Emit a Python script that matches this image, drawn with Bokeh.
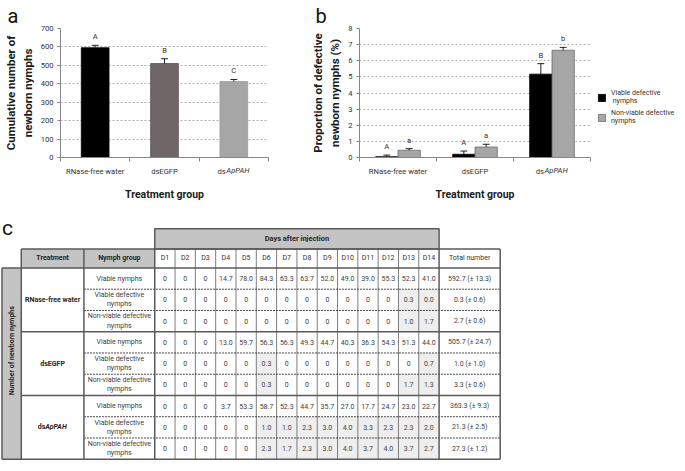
import math
from bokeh.plotting import figure
from bokeh.models import Range1d, FixedTicker, Legend, LegendItem, LinearAxis
from bokeh.layouts import column, row
from bokeh.embed import file_html
from bokeh.resources import INLINE
from bokeh.core.properties import value

FONT = "Roboto"

# ---------------- data ----------------
groups = ["RNase-free water", "dsEGFP", "dsApPAH"]

# panel a: cumulative number of newborn nymphs
a_totals = [595.7, 510.0, 412.0]
a_errors = [13.0, 26.0, 11.5]
a_letters = ["A", "B", "C"]
a_colors = ["#000000", "#6f6668", "#a6a6a6"]
a_yticks = [0, 100, 200, 300, 400, 500, 600, 700]

# panel b: proportion of defective newborn nymphs (%)
b_viable_def = [0.05, 0.20, 5.17]
b_viable_def_err = [0.10, 0.20, 0.65]
b_nonviable_def = [0.45, 0.65, 6.65]
b_nonviable_def_err = [0.10, 0.17, 0.18]
b_letters_viable = ["A", "A", "B"]
b_letters_nonviable = ["a", "a", "b"]
b_yticks = [0, 1, 2, 3, 4, 5, 6, 7, 8]
b_series = ["Viable defective\n nymphs", "Non-viable defective\nnymphs"]

# panel c: table
day_labels = ["D1", "D2", "D3", "D4", "D5", "D6", "D7", "D8", "D9", "D10", "D11", "D12", "D13", "D14"]
nymph_groups = ["Viable nymphs", "Viable defective\nnymphs", "Non-viable defective\nnymphs"]

rnase_viable = ["0", "0", "0", "14.7", "78.0", "84.3", "63.3", "63.7", "52.0", "49.0", "39.0", "55.3", "52.3", "41.0"]
rnase_viable_def = ["0", "0", "0", "0", "0", "0", "0", "0", "0", "0", "0", "0", "0.3", "0.0"]
rnase_nonviable_def = ["0", "0", "0", "0", "0", "0", "0", "0", "0", "0", "0", "0", "1.0", "1.7"]
egfp_viable = ["0", "0", "0", "13.0", "59.7", "56.3", "56.3", "49.3", "44.7", "40.3", "36.3", "54.3", "51.3", "44.0"]
egfp_viable_def = ["0", "0", "0", "0", "0", "0.3", "0", "0", "0", "0", "0", "0", "0", "0.7"]
egfp_nonviable_def = ["0", "0", "0", "0", "0", "0.3", "0", "0", "0", "0", "0", "0", "1.7", "1.3"]
pah_viable = ["0", "0", "0", "3.7", "53.3", "58.7", "52.3", "44.7", "35.7", "27.0", "17.7", "24.7", "23.0", "22.7"]
pah_viable_def = ["0", "0", "0", "0", "0", "1.0", "1.0", "2.3", "3.0", "4.0", "3.3", "2.3", "2.3", "2.0"]
pah_nonviable_def = ["0", "0", "0", "0", "0", "2.3", "1.7", "2.3", "3.0", "4.0", "3.7", "4.0", "3.7", "2.7"]

totals = ["592.7 (± 13.3)", "0.3 (± 0.6)", "2.7 (± 0.6)",
          "505.7 (± 24.7)", "1.0 (± 1.0)", "3.3 (± 0.6)",
          "363.3 (± 9.3)", "21.3 (± 2.5)", "27.3 (± 1.2)"]

table_rows = [rnase_viable, rnase_viable_def, rnase_nonviable_def,
              egfp_viable, egfp_viable_def, egfp_nonviable_def,
              pah_viable, pah_viable_def, pah_nonviable_def]

# ---------------- styling helpers ----------------
AXIS_COL = "#868686"
TXT = "#333333"
TICK_FS = "7.6px"


def style_bar_fig(p, yticks, ylabel, ux, letter, letter_offset):
    p.outline_line_color = None
    p.background_fill_color = "white"
    p.border_fill_color = "white"
    p.xgrid.grid_line_color = None
    p.ygrid.grid_line_color = "#9a9a9a"
    p.ygrid.grid_line_dash = "2 2"
    p.ygrid.grid_line_width = 0.8
    p.yaxis.ticker = FixedTicker(ticks=yticks)
    p.yaxis.minor_tick_line_color = None
    p.yaxis.major_tick_out = 3
    p.yaxis.major_tick_in = 0
    p.yaxis.axis_line_color = AXIS_COL
    p.yaxis.major_tick_line_color = AXIS_COL
    p.yaxis.major_label_text_font = FONT
    p.yaxis.major_label_text_font_size = TICK_FS
    p.yaxis.major_label_text_color = TXT
    p.yaxis.major_label_standoff = 4
    p.yaxis.axis_label = ylabel
    p.yaxis.axis_label_text_font = FONT
    p.yaxis.axis_label_text_font_size = "11.5px"
    p.yaxis.axis_label_text_font_style = "bold"
    p.yaxis.axis_label_text_color = "#1a1a1a"
    p.yaxis.axis_label_standoff = 3

    # primary x axis: boundary tick marks + upright labels ("ds" part of dsApPAH)
    ds_x = 2.5 - 12.2 * ux
    ap_x = 2.5 + 4.1 * ux
    ax = p.xaxis[0]
    ax.ticker = FixedTicker(ticks=[0.5, 1.5, ds_x], minor_ticks=[0, 1, 2, 3])
    ax.major_label_overrides = {0.5: groups[0], 1.5: groups[1], ds_x: "ds"}
    ax.major_tick_line_color = None
    ax.major_tick_out = 0
    ax.major_tick_in = 0
    ax.minor_tick_line_color = AXIS_COL
    ax.minor_tick_out = 4
    ax.minor_tick_in = 0
    ax.axis_line_color = AXIS_COL
    ax.major_label_text_font = FONT
    ax.major_label_text_font_size = TICK_FS
    ax.major_label_text_color = TXT
    ax.major_label_standoff = 5

    # secondary x axis: italic "ApPAH", pulled up into the same line, carries the title
    ax2 = LinearAxis(ticker=FixedTicker(ticks=[ap_x], minor_ticks=[]),
                     major_label_overrides={ap_x: "ApPAH"})
    ax2.axis_line_color = None
    ax2.major_tick_line_color = None
    ax2.minor_tick_line_color = None
    ax2.major_tick_out = 0
    ax2.major_tick_in = 0
    ax2.major_label_text_font = FONT
    ax2.major_label_text_font_size = TICK_FS
    ax2.major_label_text_font_style = "italic"
    ax2.major_label_text_color = TXT
    ax2.major_label_standoff = -13
    ax2.axis_label = "Treatment group"
    ax2.axis_label_text_font = FONT
    ax2.axis_label_text_font_size = "10.5px"
    ax2.axis_label_text_font_style = "bold"
    ax2.axis_label_text_color = "#1a1a1a"
    ax2.axis_label_standoff = 10
    p.add_layout(ax2, "below")

    # panel letter as a left-shifted title
    p.title.text = letter
    p.title.align = "left"
    p.title.offset = letter_offset
    p.title.text_font = FONT
    p.title.text_font_size = "20px"
    p.title.text_font_style = "normal"
    p.title.text_color = "#111111"
    p.title.standoff = 2


# ---------------- panel a ----------------
FW_A, FH = 208, 129
pa = figure(frame_width=FW_A, frame_height=FH, min_border_left=51, min_border_right=37,
            min_border_top=28, min_border_bottom=38,
            x_range=Range1d(0, 3), y_range=Range1d(0, 700),
            output_backend="svg", toolbar_location=None)
ux_a, uy_a = 3 / FW_A, 700 / FH
style_bar_fig(pa, a_yticks, "Cumulative number of\nnewborn nymphs", ux_a, "a", -53)
xa = [0.5, 1.5, 2.5]
pa.vbar(x=xa, top=a_totals, width=0.4, bottom=0, fill_color=a_colors,
        line_color=["#000000", "#5a5254", "#9a9a9a"], line_width=0.8)
a_tops = [v + e for v, e in zip(a_totals, a_errors)]
pa.segment(x0=xa, y0=a_totals, x1=xa, y1=a_tops, line_color="#222222", line_width=1)
pa.segment(x0=[x - 0.05 for x in xa], y0=a_tops, x1=[x + 0.05 for x in xa], y1=a_tops,
           line_color="#222222", line_width=1)
pa.text(x=xa, y=[t + 4 * uy_a for t in a_tops], text=a_letters, text_align="center",
        text_baseline="bottom", text_font=value(FONT), text_font_size=TICK_FS, text_color=TXT)

# ---------------- panel b ----------------
FW_B = 231
pb = figure(frame_width=FW_B, frame_height=FH, min_border_left=54, min_border_right=85,
            min_border_top=28, min_border_bottom=38,
            x_range=Range1d(0, 3), y_range=Range1d(0, 8),
            output_backend="svg", toolbar_location=None)
ux_b, uy_b = 3 / FW_B, 8 / FH
style_bar_fig(pb, b_yticks, "Proportion of defective\nnewborn nymphs (%)", ux_b, "b", -44)
bw = 0.29
xv = [x - bw / 2 for x in xa]
xn = [x + bw / 2 for x in xa]
rv = pb.vbar(x=xv, top=b_viable_def, width=bw, bottom=0, fill_color="#000000",
             line_color="#000000", line_width=0.8)
rn = pb.vbar(x=xn, top=b_nonviable_def, width=bw, bottom=0, fill_color="#a6a6a6",
             line_color="#6b6b6b", line_width=0.8)
for xs, vals, errs, letters in ((xv, b_viable_def, b_viable_def_err, b_letters_viable),
                                (xn, b_nonviable_def, b_nonviable_def_err, b_letters_nonviable)):
    tops = [v + e for v, e in zip(vals, errs)]
    pb.segment(x0=xs, y0=vals, x1=xs, y1=tops, line_color="#222222", line_width=1)
    pb.segment(x0=[x - 0.045 for x in xs], y0=tops, x1=[x + 0.045 for x in xs], y1=tops,
               line_color="#222222", line_width=1)
    pb.text(x=xs, y=[t + 4 * uy_b for t in tops], text=letters, text_align="center",
            text_baseline="bottom", text_font=value(FONT), text_font_size=TICK_FS, text_color=TXT)
legend = Legend(items=[LegendItem(label=b_series[0], renderers=[rv]),
                       LegendItem(label=b_series[1], renderers=[rn])],
                location=(7, 32), padding=0, margin=0, spacing=4,
                glyph_width=9, glyph_height=9, label_standoff=5,
                label_text_font=FONT, label_text_font_size="7px", label_text_color=TXT,
                border_line_color=None, background_fill_alpha=0)
pb.add_layout(legend, "right")

# ---------------- panel c (table) ----------------
pt = figure(frame_width=666, frame_height=258, min_border=0,
            x_range=Range1d(1.5, 681.5), y_range=Range1d(469, 206),
            x_axis_location=None, y_axis_location=None,
            output_backend="svg", toolbar_location=None)
pt.outline_line_color = None
pt.grid.visible = False

X_LEFT, X_TRT, X_NYM, X_D0, X_TOT, X_END = 3.0, 22.7, 86.7, 159.0, 449.3, 511.7
DW = (X_TOT - X_D0) / len(day_labels)
Y_DAYS, Y_HEAD, Y_DATA, Y_END = 231.7, 252.3, 271.7, 466.7
RH = (Y_END - Y_DATA) / len(table_rows)
HEAD_FILL = "#c4c4c4"
LINE_DARK = "#5a5a5a"

# fills
pt.quad(left=[X_D0, X_TRT, X_NYM, X_LEFT], right=[X_TOT, X_NYM, X_D0, X_TRT],
        top=[Y_DAYS, Y_HEAD, Y_HEAD, Y_DATA], bottom=[Y_HEAD, Y_DATA, Y_DATA, Y_END],
        fill_color=HEAD_FILL, line_color=None)
sl, sr, st, sb = [], [], [], []
for r, vals in enumerate(table_rows):
    if r % 3 == 0:
        continue
    for c, v in enumerate(vals):
        if v != "0":
            sl.append(X_D0 + c * DW)
            sr.append(X_D0 + (c + 1) * DW)
            st.append(Y_DATA + r * RH)
            sb.append(Y_DATA + (r + 1) * RH)
pt.quad(left=sl, right=sr, top=st, bottom=sb, fill_color="#eeeeee", line_color=None)

# thin vertical lines between day columns
vx = [X_D0 + k * DW for k in range(1, len(day_labels))]
pt.segment(x0=vx, y0=[Y_HEAD] * len(vx), x1=vx, y1=[Y_END] * len(vx),
           line_color="#6e6e6e", line_width=0.9)
# dashed row separators within groups
dy = [Y_DATA + r * RH for r in range(1, len(table_rows)) if r % 3 != 0]
pt.segment(x0=[X_NYM] * len(dy), y0=dy, x1=[X_END] * len(dy), y1=dy,
           line_color="#333333", line_width=0.9, line_dash="2 1")
# thick structural lines
gy = [Y_DATA + r * RH for r in (3, 6)]
hx0 = [X_TRT, X_LEFT, X_TRT, X_TRT, X_LEFT]
hy = [Y_HEAD, Y_DATA, gy[0], gy[1], Y_END]
hx1 = [X_END] * 5
pt.segment(x0=hx0, y0=hy, x1=hx1, y1=hy, line_color=LINE_DARK, line_width=1.5)
vxx = [X_LEFT, X_TRT, X_NYM, X_D0, X_TOT, X_END]
vy0 = [Y_DATA, Y_HEAD, Y_HEAD, Y_HEAD, Y_HEAD, Y_HEAD]
pt.segment(x0=vxx, y0=vy0, x1=vxx, y1=[Y_END] * len(vxx), line_color=LINE_DARK, line_width=1.5)
# days-after-injection box
pt.quad(left=[X_D0], right=[X_TOT], top=[Y_DAYS], bottom=[Y_HEAD], fill_color=None,
        line_color=LINE_DARK, line_width=1.5)

TF = "7px"
# header texts
pt.text(x=[(X_D0 + X_TOT) / 2], y=[(Y_DAYS + Y_HEAD) / 2], text=["Days after injection"],
        text_align="center", text_baseline="middle", text_font=value(FONT),
        text_font_size="7.4px", text_font_style="bold", text_color="#262626")
hy_mid = (Y_HEAD + Y_DATA) / 2
pt.text(x=[(X_TRT + X_NYM) / 2, (X_NYM + X_D0) / 2], y=[hy_mid, hy_mid],
        text=["Treatment", "Nymph group"], text_align="center", text_baseline="middle",
        text_font=value(FONT), text_font_size=TF, text_font_style="bold", text_color="#262626")
dxc = [X_D0 + (k + 0.5) * DW for k in range(len(day_labels))]
pt.text(x=dxc + [(X_TOT + X_END) / 2], y=[hy_mid] * (len(dxc) + 1),
        text=day_labels + ["Total number"], text_align="center", text_baseline="middle",
        text_font=value(FONT), text_font_size=TF, text_color="#333333")

# left rotated label
pt.text(x=[13.0], y=[356.0], text=["Number of newborn nymphs"], angle=math.pi / 2,
        text_align="center", text_baseline="middle", text_font=value(FONT),
        text_font_size=TF, text_font_style="bold", text_color="#262626")

# treatment names
gc = [Y_DATA + (3 * g + 1.5) * RH for g in range(3)]
tx = (X_TRT + X_NYM) / 2
pt.text(x=[tx, tx], y=gc[:2], text=groups[:2], text_align="center", text_baseline="middle",
        text_font=value(FONT), text_font_size=TF, text_font_style="bold", text_color="#262626")
split = tx - 7.5
pt.text(x=[split], y=[gc[2]], text=["ds"], text_align="right", text_baseline="middle",
        text_font=value(FONT), text_font_size=TF, text_font_style="bold", text_color="#262626")
pt.text(x=[split], y=[gc[2]], text=["ApPAH"], text_align="left", text_baseline="middle",
        text_font=value(FONT), text_font_size=TF, text_font_style="bold italic", text_color="#262626")

# nymph groups, values, totals
cx, cy, ct = [], [], []
for r, vals in enumerate(table_rows):
    ym = Y_DATA + (r + 0.5) * RH
    cx.append((X_NYM + X_D0) / 2); cy.append(ym); ct.append(nymph_groups[r % 3])
    for c, v in enumerate(vals):
        cx.append(dxc[c]); cy.append(ym); ct.append(v)
    cx.append((X_TOT + X_END) / 2); cy.append(ym); ct.append(totals[r])
pt.text(x=cx, y=cy, text=ct, text_align="center", text_baseline="middle",
        text_font=value(FONT), text_font_size=TF, text_color="#404040", text_line_height=1.15)

pt.text(x=[3.0], y=[231.0], text=["c"], text_align="left", text_baseline="alphabetic",
        text_font=value(FONT), text_font_size="21px", text_color="#111111")

layout = column(row(pa, pb), pt)
open("out.html", "w").write(file_html(layout, INLINE))
